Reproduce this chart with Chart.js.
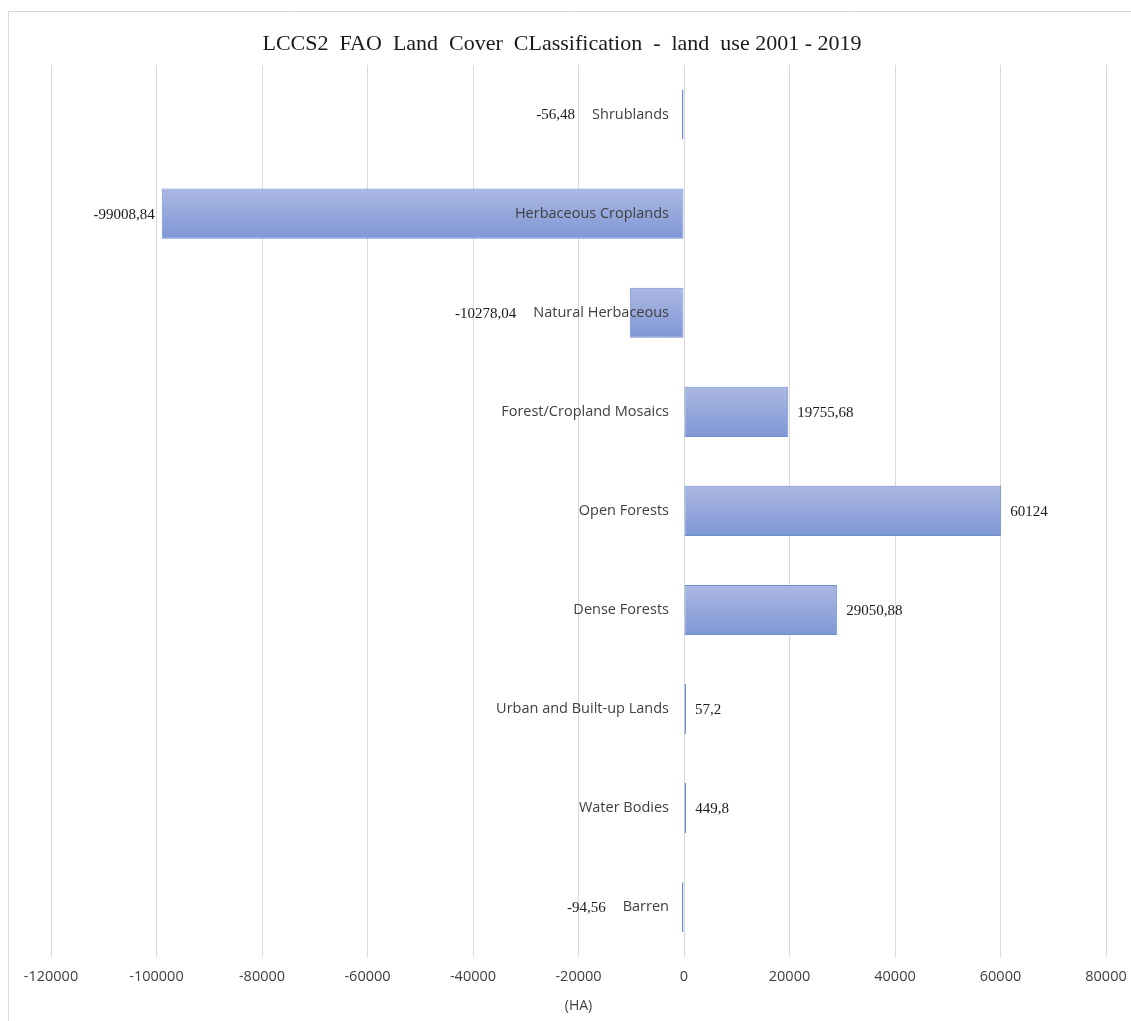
<!DOCTYPE html>
<html>
<head>
<meta charset="utf-8">
<title>LCCS2 land use 2001 - 2019</title>
<script src="https://cdn.jsdelivr.net/npm/chart.js@4.4.0/dist/chart.umd.min.js"></script>
<style>
    html, body { margin: 0; padding: 0; background: #fff; }
    #wrap { width: 1131px; height: 1021px; }
</style>
</head>
<body>
<div id="wrap"><canvas id="landChart" width="1131" height="1021"></canvas></div>
<script>
const chartTitle = "LCCS2  FAO  Land  Cover  CLassification  -  land  use 2001 - 2019";
const axisTitle = "(HA)";

const categories = [
    "Shrublands",
    "Herbaceous Croplands",
    "Natural Herbaceous",
    "Forest/Cropland Mosaics",
    "Open Forests",
    "Dense Forests",
    "Urban and Built-up Lands",
    "Water Bodies",
    "Barren"
];

// change in hectares between 2001 and 2019
const changeHa = [-56.48, -99008.84, -10278.04, 19755.68, 60124, 29050.88, 57.2, 449.8, -94.56];

const xMin = -120000;
const xMax = 80000;
const xStep = 20000;

const barShare = 0.506;

/**
 * Values are written with a decimal comma.
 */
function formatValue(v) {
    return String(v).replace(".", ",");
}

/**
 * Vertical gradient for one bar, taken from its slot on the category scale.
 */
function barFill(context) {
    const chart = context.chart;
    const yScale = chart.scales.y;
    const area = chart.chartArea;
    if (!yScale || !area) {
        return "#95a7dc";
    }
    const center = yScale.getPixelForValue(context.dataIndex);
    const half = (area.bottom - area.top) / categories.length * barShare / 2;
    const g = chart.ctx.createLinearGradient(0, center - half, 0, center + half);
    g.addColorStop(0, "#abb8e2");
    g.addColorStop(1, "#7f97d5");
    return g;
}

/**
 * Light frame along the top and left edge, plus the chart title.
 */
const framePlugin = {
    id: "frame",
    beforeDraw(chart) {
        const ctx = chart.ctx;
        ctx.save();
        ctx.strokeStyle = "#d9d9d9";
        ctx.lineWidth = 1;
        ctx.beginPath();
        ctx.moveTo(8.5, chart.height);
        ctx.lineTo(8.5, 11.5);
        ctx.lineTo(chart.width, 11.5);
        ctx.stroke();
        ctx.restore();
    },
    afterDraw(chart) {
        const ctx = chart.ctx;
        ctx.save();
        ctx.font = '22px "Liberation Serif"';
        ctx.fillStyle = "#1a1a1a";
        ctx.textAlign = "center";
        ctx.textBaseline = "middle";
        ctx.fillText(chartTitle, 562, 44);
        ctx.restore();
    }
};

/**
 * Category names next to the zero line and the value of each bar.
 */
const labelPlugin = {
    id: "barLabels",
    afterDatasetsDraw(chart) {
        const ctx = chart.ctx;
        const zeroX = chart.scales.x.getPixelForValue(0);
        ctx.save();
        ctx.textBaseline = "middle";
        chart.getDatasetMeta(0).data.forEach((bar, i) => {
            const y = bar.y;
            const catRight = zeroX - 15;
            ctx.font = '14.5px "Open Sans"';
            ctx.fillStyle = "#404040";
            ctx.textAlign = "right";
            ctx.fillText(categories[i], catRight, y);
            const catLeft = catRight - ctx.measureText(categories[i]).width;

            ctx.font = '15px "Liberation Serif"';
            ctx.fillStyle = "#1a1a1a";
            const text = formatValue(changeHa[i]);
            if (changeHa[i] < 0) {
                ctx.textAlign = "right";
                ctx.fillText(text, Math.min(bar.x - 7, catLeft - 17), y + 1);
            } else {
                ctx.textAlign = "left";
                ctx.fillText(text, bar.x + 9, y + 1);
            }
        });
        ctx.restore();
    }
};

new Chart(document.getElementById("landChart"), {
    type: "bar",
    data: {
        labels: categories,
        datasets: [{
            data: changeHa,
            backgroundColor: barFill,
            borderColor: "#6f8fd3",
            borderWidth: 1,
            borderSkipped: false,
            minBarLength: 2,
            barPercentage: barShare,
            categoryPercentage: 1
        }]
    },
    options: {
        indexAxis: "y",
        responsive: false,
        animation: false,
        layout: {
            padding: { top: 65, left: 51, right: 25, bottom: 3 }
        },
        plugins: {
            legend: { display: false },
            title: { display: false },
            tooltip: { enabled: false }
        },
        scales: {
            x: {
                type: "linear",
                min: xMin,
                max: xMax,
                grid: {
                    color: "#d9d9d9",
                    drawTicks: false
                },
                border: { display: false },
                ticks: {
                    stepSize: xStep,
                    padding: 11,
                    color: "#404040",
                    font: { family: "Open Sans", size: 14.5 },
                    callback: value => String(value)
                },
                title: {
                    display: true,
                    text: axisTitle,
                    color: "#404040",
                    font: { family: "Open Sans", size: 14 },
                    padding: { top: 1, bottom: 4 }
                },
                // the outer padding already leaves room for the end labels
                afterFit: scale => {
                    scale.paddingLeft = 0;
                    scale.paddingRight = 0;
                }
            },
            y: {
                display: false
            }
        }
    },
    plugins: [framePlugin, labelPlugin]
});
</script>
</body>
</html>
